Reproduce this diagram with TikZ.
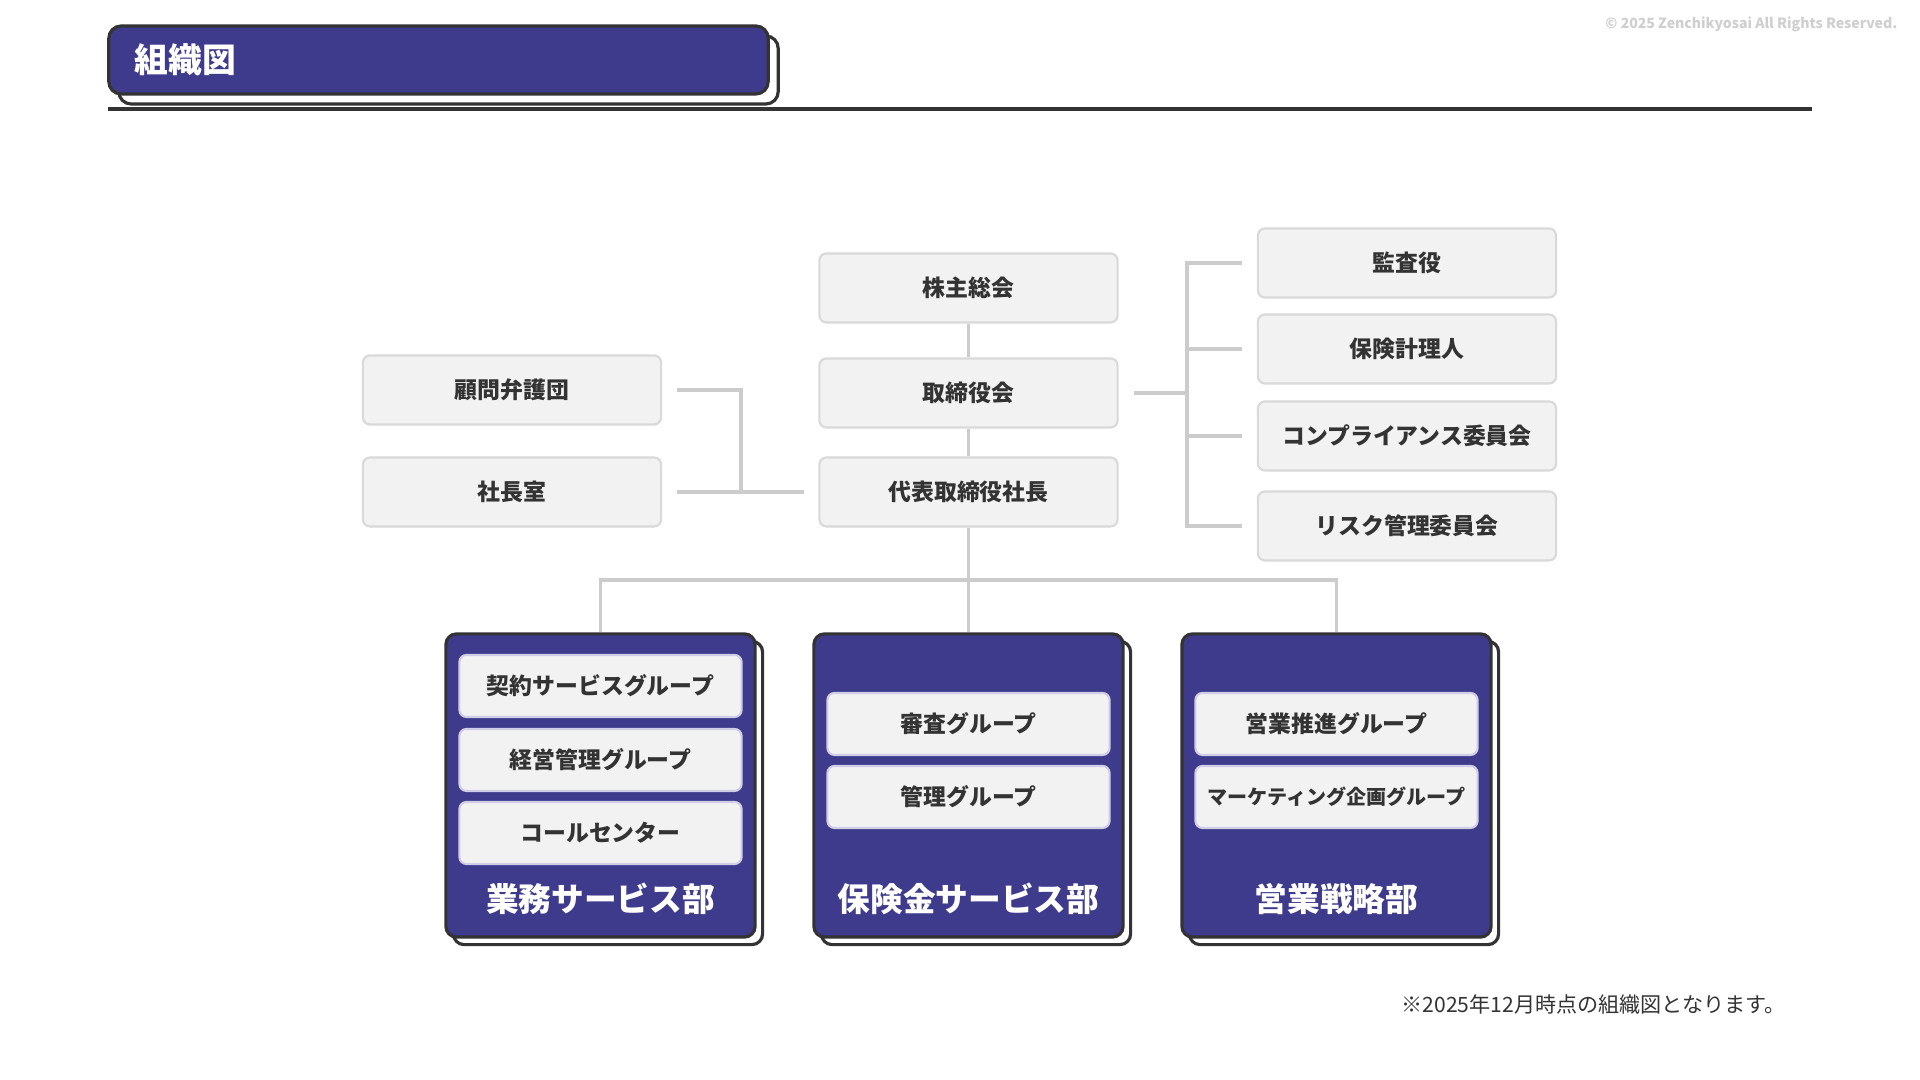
\documentclass[tikz,border=0pt]{standalone}
\usepackage{fontspec}
\setmainfont{Noto Sans CJK JP}
\usepackage{tikz}
\usetikzlibrary{positioning,shadows}
\definecolor{navy}{HTML}{3E3B8C}
\definecolor{ink}{HTML}{333333}
\definecolor{boxfill}{HTML}{F2F2F2}
\definecolor{boxline}{HTML}{D9D9D9}
\definecolor{grpline}{HTML}{CFCEE6}
\definecolor{wirec}{HTML}{CCCCCC}
\definecolor{copyc}{HTML}{CFCFCF}

\begin{document}
\begin{tikzpicture}[x=0.01cm,y=-0.01cm,
  org/.style={draw=boxline,line width=0.6pt,fill=boxfill,rounded corners=2pt,
              minimum width=2.98cm,minimum height=0.69cm,inner sep=0pt,text=ink,
              font=\fontsize{6.5}{7}\selectfont\bfseries},
  grp/.style={draw=grpline,line width=0.6pt,fill=boxfill,rounded corners=2pt,
              minimum width=2.82cm,minimum height=0.62cm,inner sep=0pt,text=ink,
              font=\fontsize{6.5}{7}\selectfont\bfseries},
  dept/.style={draw=ink,line width=0.9pt,fill=navy,rounded corners=3pt,
               minimum width=3.09cm,minimum height=3.03cm,inner sep=0pt,
               copy shadow={fill=white,draw=ink,line width=0.9pt,
                            shadow xshift=0.075cm,shadow yshift=-0.075cm}},
  deptname/.style={text=white,font=\fontsize{9.3}{10}\selectfont\bfseries},
  wire/.style={draw=wirec,line width=1.1pt}]
\useasboundingbox[fill=white] (0,0) rectangle (1920,1080);

% title bar
\node[draw=ink,line width=0.9pt,fill=navy,rounded corners=3.5pt,
      minimum width=6.59cm,minimum height=0.68cm,inner sep=0pt,
      copy shadow={fill=white,draw=ink,line width=0.9pt,
                   shadow xshift=0.1cm,shadow yshift=-0.1cm}] (title) at (438.5,60) {};
\node[anchor=west,inner sep=0pt,text=white,font=\fontsize{9.6}{10}\selectfont\bfseries]
  (titletext) at ([xshift=0.27cm]title.west) {組織図};
\coordinate (rulel) at (108,109);
\coordinate (ruler) at (1812,109);
\draw[ink,line width=1.1pt] (rulel) -- (ruler);
\node[anchor=east,inner sep=0pt,text=copyc,font=\fontsize{4}{4}\selectfont\bfseries]
  (copyright) at (1898,24) {© 2025 Zenchikyosai All Rights Reserved.};

% top of the tree
\node[org] (kabu)   at (968.5,288) {株主総会};
\node[org] (tori)   at (968.5,393) {取締役会};
\node[org] (daihyo) at (968.5,492) {代表取締役社長};
\node[org] (komon)  at (512,390)   {顧問弁護団};
\node[org] (shacho) at (512,492)   {社長室};
\node[org] (kansa)  at (1407,263)  {監査役};
\node[org] (keiri)  at (1407,349)  {保険計理人};
\node[org] (comp)   at (1407,436)  {コンプライアンス委員会};
\node[org] (risk)   at (1407,526)  {リスク管理委員会};

% departments
\node[dept] (dgyomu) at (600.5,785.5)  {};
\node[dept] (dhoken) at (968.5,785.5)  {};
\node[dept] (deigyo) at (1336.5,785.5) {};
\node[deptname] (ngyomu) at (600.5,899)  {業務サービス部};
\node[deptname] (nhoken) at (968.5,899)  {保険金サービス部};
\node[deptname] (neigyo) at (1336.5,899) {営業戦略部};

\node[grp] (keiyaku) at (600.5,686)  {契約サービスグループ};
\node[grp] (keiei)   at (600.5,760)  {経営管理グループ};
\node[grp] (call)    at (600.5,833)  {コールセンター};
\node[grp] (shinsa)  at (968.5,724)  {審査グループ};
\node[grp] (kanri)   at (968.5,797)  {管理グループ};
\node[grp] (suishin) at (1336.5,724) {営業推進グループ};
\node[grp,font=\fontsize{5.7}{6}\selectfont\bfseries] (mkt) at (1336.5,797) {マーケティング企画グループ};

% connectors
\coordinate (lj) at (741,0);
\coordinate (rj) at (1187,0);
\coordinate (busl) at (600.5,580);
\coordinate (busr) at (1336.5,580);
\draw[wire] (kabu) -- (tori);
\draw[wire] (tori) -- (daihyo);
\draw[wire] (daihyo) -- (dhoken);
\draw[wire] (dgyomu.north -| busl) -- (busl) -- (busr) -- (deigyo.north -| busr);
\draw[wire] ([xshift=0.15cm]komon.east) -| (lj |- shacho.east);
\draw[wire] ([xshift=0.15cm]shacho.east) -- ([xshift=-0.14cm]daihyo.west);
\draw[wire] ([xshift=0.15cm]tori.east) -- (rj |- tori.east);
\draw[wire] ([xshift=-0.15cm]kansa.west) -| (rj |- risk.west) -- ([xshift=-0.15cm]risk.west);
\foreach \n in {keiri,comp}
  \draw[wire] (rj |- \n.west) -- ([xshift=-0.15cm]\n.west);

\node[anchor=west,inner sep=0pt,text=ink,font=\fontsize{6}{7}\selectfont]
  (note) at (1401,1005) {※2025年12月時点の組織図となります。};
\end{tikzpicture}
\end{document}
